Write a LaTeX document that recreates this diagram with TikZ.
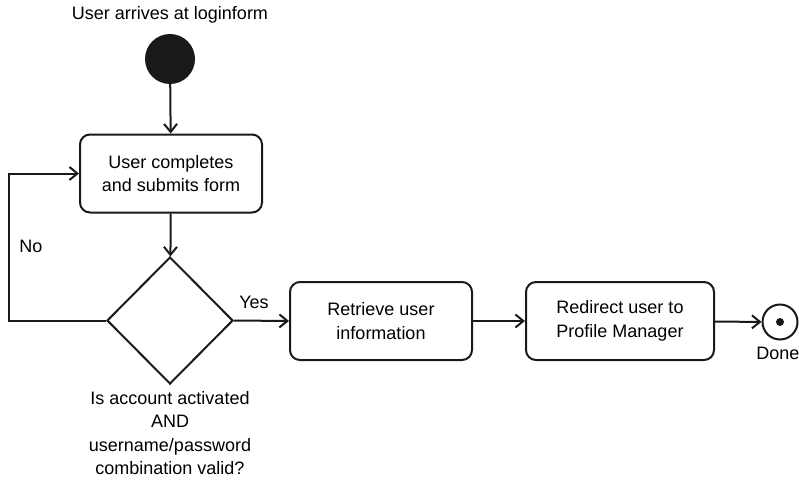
\documentclass[tikz,border=0pt]{standalone}
\usepackage{fontspec}
\setmainfont{Liberation Sans}
\usetikzlibrary{arrows.meta,shapes.geometric}
\tikzset{
  line/.style={line width=2pt, draw=black!90},
  arr/.style={line, -{Straight Barb[length=8pt,width=13pt,line width=2pt]}},
  actbox/.style={line, rounded corners=10pt, minimum width=182pt, minimum height=78pt, align=center, inner sep=0pt},
  lbl/.style={align=center, inner sep=0pt},
}
\begin{document}
\begin{tikzpicture}[x=1pt,y=-1pt, every node/.style={font=\fontsize{18}{23.5}\selectfont}]
\useasboundingbox (0,0) rectangle (799,484);
\node[lbl] (title) at (170,15) {User arrives at loginform};
\node[circle, fill=black!90, minimum size=50pt, inner sep=0pt] (start) at (170,59) {};
\node[actbox] (b1) at (171,173.5) {User completes\\and submits form};
\node[diamond, line, minimum width=126pt, minimum height=127pt, inner sep=0pt] (d) at (170,320.5) {};
\node[actbox] (b2) at (381,321) {Retrieve user\\information};
\node[actbox, minimum width=188pt] (b3) at (620,321) {Redirect user to\\Profile Manager};
\node[circle, line, minimum size=35pt, inner sep=0pt] (end) at (780,322) {};
\node[circle, fill=black!90, minimum size=8pt, inner sep=0pt] (enddot) at (end.center) {};
\node[lbl, anchor=east] (done) at (799.5,353) {Done};
\node[lbl] (q) at (170,433) {Is account activated\\AND\\username/password\\combination valid?};
\node[lbl] (no) at (31,246) {No};
\node[lbl] (yes) at (254,302) {Yes};
\coordinate (c1) at (9,320.5);
\coordinate (c2) at (9,173.5);
\draw[arr] (start) -- (b1);
\draw[arr] (b1) -- (d);
\draw[arr] (d.west) -- (c1) -- (c2) -- (b1.west);
\draw[arr] (d.east) -- (b2.west);
\draw[arr] (b2) -- (b3);
\draw[arr] (b3) -- (end);
\end{tikzpicture}
\end{document}
